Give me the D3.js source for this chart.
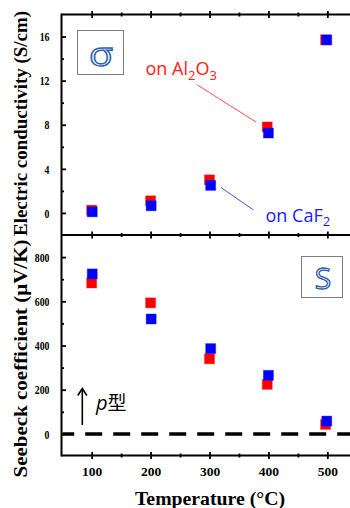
<!DOCTYPE html>
<html><head><meta charset="utf-8">
<script src="https://cdn.jsdelivr.net/npm/d3@7"></script>
<style>
html,body{margin:0;padding:0;background:#fff;}
svg{display:block;}
</style></head>
<body>
<svg id="chart" width="350" height="508"></svg>
<script>
// ---- data ----
const tempTicks = [100, 200, 300, 400, 500];
const tempMinor = [150, 250, 350, 450];
const condTicks = [0, 4, 8, 12, 16];
const condMinor = [2, 6, 10, 14];
const seebTicks = [0, 200, 400, 600, 800];
const seebMinor = [100, 300, 500, 700];

const tempAl = [100, 200, 300, 398, 497];
const tempCa = [101, 201, 302, 400, 499];
const condAl = [0.25, 1.1, 3.0, 7.8, 15.7];
const condCa = [0.1, 0.65, 2.5, 7.25, 15.7];
const seebAl = [683, 593, 340, 224, 43];
const seebCa = [724, 520, 386, 265, 58];

const svg = d3.select("#chart");
const x = d3.scaleLinear().domain([50, 550]).range([62.2, 356.8]);
const yT = d3.scaleLinear().domain([-2, 18]).range([235, 14.5]);
const yB = d3.scaleLinear().domain([-100, 900]).range([456, 235]);

const X0 = 61.5, XR = 360;
const serif = "'Liberation Serif','Times New Roman',serif";
const sans = "'Open Sans','Noto Sans',sans-serif";

// ---- frame lines ----
[14.5, 235, 455.5].forEach(yy => {
  svg.append("line").attr("x1", X0).attr("x2", XR).attr("y1", yy).attr("y2", yy)
    .attr("stroke", "#000").attr("stroke-width", 2);
});
svg.append("line").attr("x1", X0).attr("x2", X0).attr("y1", 13.5).attr("y2", 456.5)
  .attr("stroke", "#000").attr("stroke-width", 2);

// ---- x axes (ticks crossing) ----
function xAxisAt(yy, labels) {
  const g = svg.append("g").attr("transform", `translate(0,${yy})`)
    .call(d3.axisBottom(x).tickValues(tempTicks).tickSizeOuter(0).tickSize(3.5).tickPadding(labels ? 7 : 0));
  g.select(".domain").remove();
  g.selectAll(".tick line").attr("y1", -3.5).attr("y2", 3.5).attr("stroke-width", 1.8);
  if (!labels) g.selectAll(".tick text").remove();
  else g.selectAll(".tick text").attr("font-family", serif).attr("font-weight", "bold")
    .attr("font-size", 13.5).attr("fill", "#000");
  const gm = svg.append("g").attr("transform", `translate(0,${yy})`)
    .call(d3.axisBottom(x).tickValues(tempMinor).tickSizeOuter(0).tickSize(2).tickFormat(""));
  gm.select(".domain").remove();
  gm.selectAll(".tick line").attr("y1", -2).attr("y2", 2).attr("stroke-width", 1.8);
}
xAxisAt(14.5, false);
xAxisAt(235, false);
xAxisAt(455.5, true);

// ---- y axes (ticks inward) ----
function yAxis(scale, ticks, minor) {
  const g = svg.append("g").attr("transform", `translate(${X0},0)`)
    .call(d3.axisLeft(scale).tickValues(ticks).tickSizeOuter(0).tickSize(-4.5).tickPadding(12));
  g.select(".domain").remove();
  g.selectAll(".tick line").attr("stroke-width", 1.8);
  g.selectAll(".tick text").attr("font-family", serif).attr("font-weight", "bold")
    .attr("font-size", 13).attr("fill", "#000")
    .attr("textLength", d => String(d).length * 4.9).attr("lengthAdjust", "spacingAndGlyphs");
  const gm = svg.append("g").attr("transform", `translate(${X0},0)`)
    .call(d3.axisLeft(scale).tickValues(minor).tickSizeOuter(0).tickSize(-2.5).tickFormat(""));
  gm.select(".domain").remove();
  gm.selectAll(".tick line").attr("stroke-width", 1.8);
}
yAxis(yT, condTicks, condMinor);
yAxis(yB, seebTicks, seebMinor);

// ---- axis titles ----
svg.append("text").attr("transform", "translate(26.5,123.5) rotate(-90)")
  .attr("text-anchor", "middle").attr("font-family", serif).attr("font-weight", "bold")
  .attr("font-size", 19).attr("textLength", 225).attr("lengthAdjust", "spacingAndGlyphs")
  .text("Electric conductivity (S/cm)");
svg.append("text").attr("transform", "translate(26.5,358.5) rotate(-90)")
  .attr("text-anchor", "middle").attr("font-family", serif).attr("font-weight", "bold")
  .attr("font-size", 19).attr("textLength", 238).attr("lengthAdjust", "spacingAndGlyphs")
  .text("Seebeck coefficient (μV/K)");
svg.append("text").attr("x", 210).attr("y", 505)
  .attr("text-anchor", "middle").attr("font-family", serif).attr("font-weight", "bold")
  .attr("font-size", 19.5).attr("textLength", 150).attr("lengthAdjust", "spacingAndGlyphs")
  .text("Temperature (°C)");

// ---- dashed zero line ----
svg.append("clipPath").attr("id", "clipB").append("rect")
  .attr("x", X0 + 1).attr("y", 236).attr("width", 300).attr("height", 218);
svg.append("line").attr("x1", x(50) - 5).attr("x2", XR).attr("y1", yB(0)).attr("y2", yB(0))
  .attr("stroke", "#000").attr("stroke-width", 3.5).attr("stroke-dasharray", "17,11")
  .attr("clip-path", "url(#clipB)");

// ---- markers ----
const S = 10;
function squares(tx, vals, scale, color) {
  svg.append("g").selectAll("rect").data(vals).join("rect")
    .attr("x", (d, i) => x(tx[i]) - S / 2).attr("y", d => scale(d) - S / 2)
    .attr("width", S).attr("height", S).attr("fill", color)
    .attr("stroke", color).attr("stroke-opacity", 0.35).attr("stroke-width", 1);
}
squares(tempAl, condAl, yT, "#ff0000");
squares(tempCa, condCa, yT, "#0000ff");
squares(tempAl, seebAl, yB, "#ff0000");
squares(tempCa, seebCa, yB, "#0000ff");

// ---- annotations ----
const alT = svg.append("text").attr("x", 145.5).attr("y", 75).attr("font-family", sans)
  .attr("font-size", 18).attr("fill", "#ff1a1a");
alT.append("tspan").text("on Al");
alT.append("tspan").attr("dy", 4.5).attr("font-size", 13).text("2");
alT.append("tspan").attr("dy", -4.5).text("O");
alT.append("tspan").attr("dy", 4.5).attr("font-size", 13).text("3");
svg.append("line").attr("x1", 197.5).attr("y1", 85).attr("x2", 256).attr("y2", 122)
  .attr("stroke", "#ff4d4d").attr("stroke-width", 1);

const caT = svg.append("text").attr("x", 265.5).attr("y", 221.5).attr("font-family", sans)
  .attr("font-size", 18).attr("fill", "#1a1aff");
caT.append("tspan").text("on CaF");
caT.append("tspan").attr("dy", 4.5).attr("font-size", 13).text("2");
svg.append("line").attr("x1", 221).attr("y1", 187.5).attr("x2", 253.5).attr("y2", 210)
  .attr("stroke", "#4d4dff").attr("stroke-width", 1);

// ---- symbol boxes ----
svg.append("rect").attr("x", 77.5).attr("y", 30.5).attr("width", 46).attr("height", 44)
  .attr("fill", "#fff").attr("stroke", "#7f7f7f").attr("stroke-width", 1);
svg.append("text").attr("x", 101).attr("y", 66).attr("text-anchor", "middle")
  .attr("font-family", sans).attr("font-size", 32).attr("fill", "#eef3fb")
  .attr("stroke", "#2f5fb0").attr("stroke-width", 1.3)
  .attr("textLength", 24).attr("lengthAdjust", "spacingAndGlyphs").text("σ");
svg.append("rect").attr("x", 301.5).attr("y", 256.5).attr("width", 41).attr("height", 41)
  .attr("fill", "#fff").attr("stroke", "#7f7f7f").attr("stroke-width", 1);
svg.append("text").attr("x", 323).attr("y", 288.5).attr("text-anchor", "middle")
  .attr("font-family", sans).attr("font-size", 30).attr("fill", "#eef3fb")
  .attr("stroke", "#2f5fb0").attr("stroke-width", 1.3).text("S");

// ---- p-type arrow ----
svg.append("line").attr("x1", 82.3).attr("x2", 82.3).attr("y1", 425).attr("y2", 389)
  .attr("stroke", "#000").attr("stroke-width", 1.6);
svg.append("path").attr("d", "M77.8,395.5 L82.3,388.5 L86.8,395.5")
  .attr("fill", "none").attr("stroke", "#000").attr("stroke-width", 1.6);
const pT = svg.append("text").attr("x", 96).attr("y", 410).attr("font-size", 20).attr("fill", "#000");
pT.append("tspan").attr("font-family", sans).attr("font-style", "italic").text("p");
pT.append("tspan").attr("font-family", "'Noto Sans CJK JP',sans-serif").attr("font-size", 19).text("型");
</script>
</body></html>
